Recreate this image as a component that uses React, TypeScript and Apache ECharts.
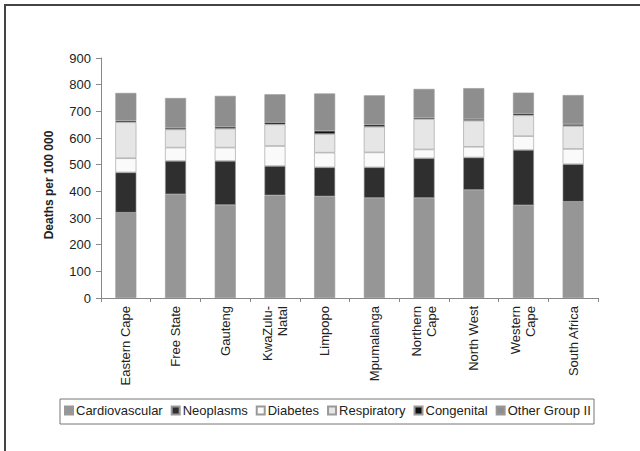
import React, { useEffect, useRef } from "react";
import * as echarts from "echarts";

const categories = [
  "Eastern Cape",
  "Free State",
  "Gauteng",
  "KwaZulu-\nNatal",
  "Limpopo",
  "Mpumalanga",
  "Northern\nCape",
  "North West",
  "Western\nCape",
  "South Africa",
];

const cardiovascular = [320, 389, 349, 385, 381, 375, 375, 405, 348, 361];
const neoplasms = [151, 125, 165, 110, 109, 115, 149, 122, 207, 141];
const diabetes = [53, 50, 50, 75, 55, 56, 33, 40, 52, 57];
const respiratory = [135, 68, 71, 81, 70, 96, 114, 98, 78, 86];
const congenital = [6, 6, 7, 8, 12, 8, 6, 6, 7, 7];
const otherGroupII = [104, 112, 116, 105, 140, 110, 107, 116, 78, 109];

const yTicks = [0, 100, 200, 300, 400, 500, 600, 700, 800, 900];

const seriesDefs = [
  { name: "Cardiovascular", data: cardiovascular, color: "#969696" },
  { name: "Neoplasms", data: neoplasms, color: "#2f2f2f" },
  { name: "Diabetes", data: diabetes, color: "#fafafa" },
  { name: "Respiratory", data: respiratory, color: "#e6e6e6" },
  { name: "Congenital", data: congenital, color: "#111111" },
  { name: "Other Group II", data: otherGroupII, color: "#8e8e8e" },
];

const FONT = "'Liberation Sans', Arial, sans-serif";

export default function App() {
  const ref = useRef<HTMLDivElement>(null);

  useEffect(() => {
    if (!ref.current) return;
    const chart = echarts.init(ref.current, undefined, { renderer: "svg" });
    chart.setOption({
      animation: false,
      backgroundColor: "#ffffff",
      textStyle: { fontFamily: FONT },
      grid: { left: 101, right: 42, top: 58, bottom: 153, containLabel: false },
      legend: {
        left: 64,
        top: 404,
        itemWidth: 8,
        itemHeight: 8,
        itemGap: 8,
        icon: "rect",
        padding: 0,
        textStyle: { fontFamily: FONT, fontSize: 13, color: "#222", padding: [0, 0, 0, -2] },
        data: seriesDefs.map((s) => s.name),
      },
      xAxis: {
        type: "category",
        data: categories,
        axisLine: { lineStyle: { color: "#888", width: 1 } },
        axisTick: { show: true, length: 4, lineStyle: { color: "#888" } },
        axisLabel: {
          rotate: 90,
          margin: 8,
          fontSize: 13,
          fontFamily: FONT,
          color: "#222",
          lineHeight: 15,
        },
      },
      yAxis: {
        type: "value",
        min: 0,
        max: 900,
        interval: 100,
        name: "Deaths per 100 000",
        nameLocation: "middle",
        nameGap: 46,
        nameTextStyle: {
          fontFamily: FONT,
          fontSize: 12,
          fontWeight: "bold",
          color: "#222",
          padding: [0, 14, 0, 0],
        },
        axisLine: { show: true, lineStyle: { color: "#888", width: 1 } },
        axisTick: { show: true, length: 5, lineStyle: { color: "#888" } },
        axisLabel: {
          margin: 10,
          fontSize: 13,
          fontFamily: FONT,
          color: "#222",
          formatter: (v: number) => (yTicks.includes(v) ? String(v) : ""),
        },
        splitLine: { show: false },
      },
      series: seriesDefs.map((s) => ({
        name: s.name,
        type: "bar",
        stack: "total",
        data: s.data,
        barWidth: 21,
        itemStyle: { color: s.color, borderColor: "#999", borderWidth: 0.6 },
      })),
      graphic: [
        {
          type: "rect",
          shape: { x: 5, y: 5, width: 700, height: 500 },
          style: { fill: "none", stroke: "#444", lineWidth: 2 },
          silent: true,
        },
        {
          type: "rect",
          shape: { x: 60, y: 399, width: 534, height: 25 },
          style: { fill: "none", stroke: "#777", lineWidth: 1 },
          silent: true,
        },
      ],
    });
    return () => chart.dispose();
  }, []);

  return (
    <div
      ref={ref}
      style={{ position: "fixed", left: 0, top: 0, width: 640, height: 451 }}
    />
  );
}
